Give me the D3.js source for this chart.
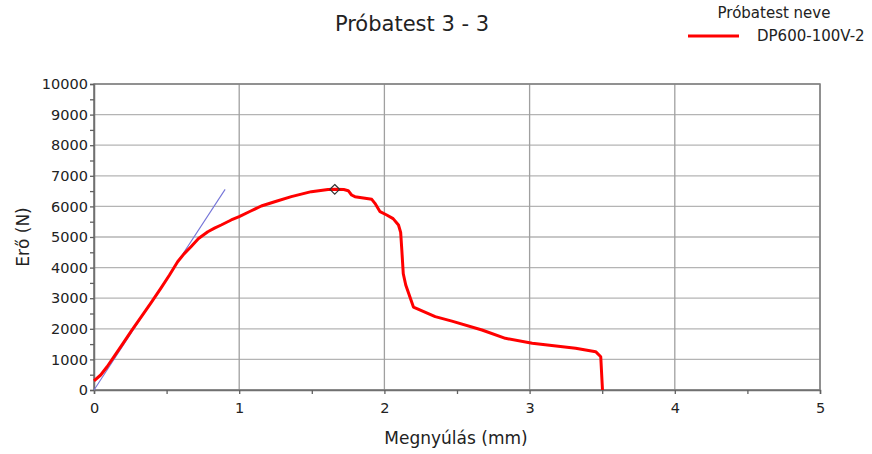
<!DOCTYPE html>
<html>
<head>
<meta charset="utf-8">
<script src="https://cdn.jsdelivr.net/npm/d3@7"></script>
<style>
  body { margin: 0; background: #fff; }
  svg { font-family: "DejaVu Sans", Verdana, sans-serif; }
</style>
</head>
<body>
<div id="chart"></div>
<script>
const width = 872;
const height = 454;

// Data
const xTicks = [0, 1, 2, 3, 4, 5];
const yTicks = [0, 1000, 2000, 3000, 4000, 5000, 6000, 7000, 8000, 9000, 10000];
const strain = [0, 0.046, 0.09, 0.138, 0.2, 0.26, 0.33, 0.39, 0.461, 0.52, 0.576, 0.62, 0.668, 0.72, 0.784, 0.83, 0.876, 0.945, 1.0, 1.08, 1.152, 1.25, 1.359, 1.497, 1.612, 1.658, 1.72, 1.751, 1.774, 1.797, 1.913, 1.935, 1.97, 2.016, 2.06, 2.097, 2.112, 2.12, 2.13, 2.147, 2.2, 2.35, 2.465, 2.672, 2.833, 3.018, 3.317, 3.455, 3.49, 3.502];
const force = [300, 490, 760, 1088, 1525, 1950, 2420, 2830, 3330, 3760, 4190, 4450, 4683, 4950, 5173, 5290, 5392, 5556, 5664, 5850, 6013, 6160, 6318, 6482, 6555, 6558, 6550, 6513, 6373, 6318, 6231, 6100, 5827, 5719, 5600, 5392, 5150, 4575, 3800, 3431, 2710, 2397, 2250, 1961, 1689, 1526, 1362, 1252, 1088, 0];
const peak = [1.658, 6558];
const slopeLine = [[0, 0], [0.903, 6558]];
const seriesName = "DP600-100V-2";
const legendTitle = "Próbatest neve";

const margin = {top: 84, right: 52, bottom: 64, left: 94};
const plotW = 820 - margin.left;
const plotH = 390 - margin.top;

const svg = d3.select("#chart")
    .append("svg")
    .attr("width", width)
    .attr("height", height);

const x = d3.scaleLinear().domain([0, 5]).range([margin.left, margin.left + plotW]);
const y = d3.scaleLinear().domain([0, 10000]).range([margin.top + plotH, margin.top]);

// gridlines
svg.append("g")
    .selectAll("line")
    .data(yTicks)
    .enter().append("line")
    .attr("x1", x(0)).attr("x2", x(5))
    .attr("y1", d => y(d)).attr("y2", d => y(d))
    .attr("stroke", "#b4b4b4")
    .attr("stroke-width", 1.3);

svg.append("g")
    .selectAll("line")
    .data(xTicks)
    .enter().append("line")
    .attr("x1", d => x(d)).attr("x2", d => x(d))
    .attr("y1", y(0)).attr("y2", y(10000))
    .attr("stroke", "#a0a0a0")
    .attr("stroke-width", 1.3);

// plot frame
svg.append("rect")
    .attr("x", x(0)).attr("y", y(10000))
    .attr("width", plotW).attr("height", plotH)
    .attr("fill", "none")
    .attr("stroke", "#808080")
    .attr("stroke-width", 1.5);

// axes
const xAxis = svg.append("g")
    .attr("transform", `translate(0,${y(0)})`)
    .call(d3.axisBottom(x).tickValues(d3.range(0, 5.01, 0.5)).tickSize(4).tickFormat(d => Number.isInteger(d) ? d : ""));
xAxis.select(".domain").attr("stroke", "#707070").attr("stroke-width", 1.5);
xAxis.selectAll(".tick line").attr("stroke", "#606060").attr("stroke-width", 1.3);
xAxis.selectAll("text").attr("font-size", 14.5).attr("fill", "#222").attr("dy", "1.1em")
    .attr("font-family", "DejaVu Sans, Verdana, sans-serif");

const yAxis = svg.append("g")
    .attr("transform", `translate(${x(0)},0)`)
    .call(d3.axisLeft(y).tickValues(d3.range(0, 10001, 500)).tickSize(4).tickFormat(d => d % 1000 === 0 ? d : ""));
yAxis.select(".domain").attr("stroke", "#707070").attr("stroke-width", 1.5);
yAxis.selectAll(".tick line").attr("stroke", "#606060").attr("stroke-width", 1.3);
yAxis.selectAll("text").attr("font-size", 14.5).attr("fill", "#222").attr("x", -6)
    .attr("font-family", "DejaVu Sans, Verdana, sans-serif");

// elastic slope line
svg.append("path")
    .datum(slopeLine)
    .attr("d", d3.line().x(d => x(d[0])).y(d => y(d[1])))
    .attr("fill", "none")
    .attr("stroke", "#7474d8")
    .attr("stroke-width", 1.1);

// force curve
const curve = strain.map((s, i) => [s, force[i]]);
svg.append("path")
    .datum(curve)
    .attr("d", d3.line().x(d => x(d[0])).y(d => y(d[1])))
    .attr("fill", "none")
    .attr("stroke", "#ff0000")
    .attr("stroke-width", 3)
    .attr("stroke-linejoin", "round");

// peak marker
svg.append("path")
    .attr("d", d3.symbol().type(d3.symbolDiamond2).size(60))
    .attr("transform", `translate(${x(peak[0])},${y(peak[1])})`)
    .attr("fill", "none")
    .attr("stroke", "#333")
    .attr("stroke-width", 1.2);

// titles
svg.append("text")
    .attr("x", 412).attr("y", 31)
    .attr("text-anchor", "middle")
    .attr("font-size", 21)
    .attr("fill", "#222")
    .text("Próbatest 3 - 3");

svg.append("text")
    .attr("x", 456).attr("y", 444)
    .attr("text-anchor", "middle")
    .attr("font-size", 17)
    .attr("fill", "#222")
    .text("Megnyúlás (mm)");

svg.append("text")
    .attr("transform", `translate(29,${(y(0) + y(10000)) / 2}) rotate(-90)`)
    .attr("text-anchor", "middle")
    .attr("font-size", 17)
    .attr("fill", "#222")
    .text("Erő (N)");

// legend
svg.append("text")
    .attr("x", 774).attr("y", 18)
    .attr("text-anchor", "middle")
    .attr("font-size", 15)
    .attr("fill", "#222")
    .text(legendTitle);

svg.append("line")
    .attr("x1", 688).attr("x2", 739)
    .attr("y1", 36).attr("y2", 36)
    .attr("stroke", "#ff0000")
    .attr("stroke-width", 3);

svg.append("text")
    .attr("x", 757).attr("y", 41)
    .attr("font-size", 15)
    .attr("fill", "#222")
    .text(seriesName);
</script>
</body>
</html>
